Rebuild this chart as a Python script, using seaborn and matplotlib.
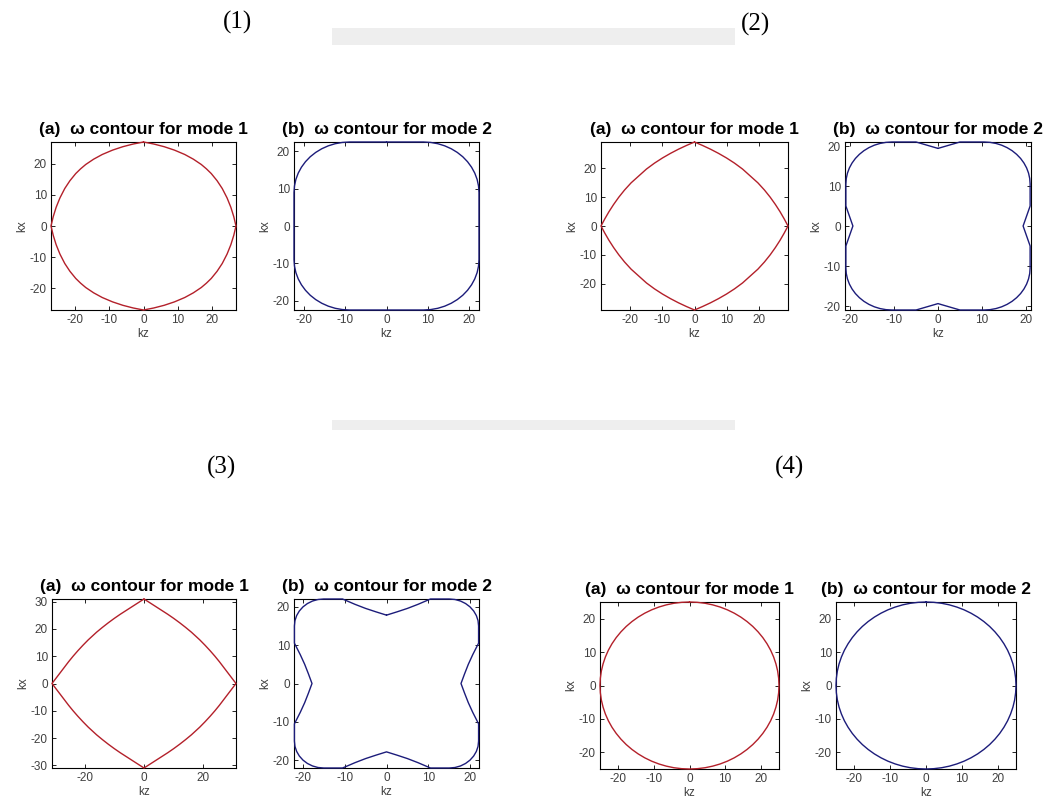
import numpy as np
import matplotlib
matplotlib.use("Agg")
import matplotlib.pyplot as plt
from matplotlib.patches import Rectangle
import seaborn as sns

sns.set_theme(style="ticks")
plt.rcParams["font.family"] = ["Liberation Sans", "DejaVu Sans"]
plt.rcParams["axes.unicode_minus"] = False

# First-quadrant points (kz, kx) of each omega contour, running from the kx axis to the kz axis.
c1a_kz = [0, 3, 6, 9, 12, 14.5, 16.8, 18.3, 19.7, 21.4, 22.9, 24.3, 25.4, 26.25, 26.9]
c1a_kx = [26.9, 26.25, 25.4, 24.3, 22.9, 21.4, 19.7, 18.3, 16.8, 14.5, 12, 9, 6, 3, 0]

c1b_kz = [0, 9, 10.76, 12.49, 14.17, 15.75, 17.22, 18.55, 19.71, 20.69, 21.47, 22.04, 22.38, 22.5, 22.5]
c1b_kx = [22.5, 22.5, 22.38, 22.04, 21.47, 20.69, 19.71, 18.55, 17.22, 15.75, 14.17, 12.49, 10.76, 9, 0]

c2a_kz = [0, 2.5, 5, 7.5, 10, 12.5, 15, 17.4, 19.8, 21.85, 23.65, 25.25, 26.7, 28.0, 29.2]
c2a_kx = [29.2, 28.0, 26.7, 25.25, 23.65, 21.85, 19.8, 17.4, 15, 12.5, 10, 7.5, 5, 2.5, 0]

c2b_kz = [0, 2.5, 5, 10.5, 11.87, 13.22, 14.52, 15.75, 16.89, 17.92, 18.83, 19.59, 20.2, 20.64,
          20.91, 21.0, 21.0, 20.2, 19.4]
c2b_kx = [19.4, 20.2, 21.0, 21.0, 20.91, 20.64, 20.2, 19.59, 18.83, 17.92, 16.89, 15.75, 14.52,
          13.22, 11.87, 10.5, 5, 2.5, 0]

c3a_kz = [0, 2, 4, 6, 8, 10, 12, 14, 16, 17.4, 18.8, 20.6, 22.3, 23.9, 25.4, 26.8, 28.2, 29.6, 31]
c3a_kx = [31, 29.6, 28.2, 26.8, 25.4, 23.9, 22.3, 20.6, 18.8, 17.4, 16, 14, 12, 10, 8, 6, 4, 2, 0]

c3b_kz = [0, 2.5, 5, 7.5, 10.5, 15, 16.37, 17.68, 18.89, 19.95, 20.82, 21.47, 21.87, 22, 22,
          20.6, 19.55, 18.65, 17.8]
c3b_kx = [17.8, 18.65, 19.55, 20.6, 22, 22, 21.87, 21.47, 20.82, 19.95, 18.89, 17.68, 16.37, 15,
          10.5, 7.5, 5, 2.5, 0]

c4a_kz = [0, 2.19, 4.36, 6.5, 8.58, 10.61, 12.55, 14.4, 16.13, 17.75, 19.23, 20.56, 21.74,
          22.75, 23.59, 24.24, 24.72, 25.0, 25.1]
c4a_kx = [25.1, 25.0, 24.72, 24.24, 23.59, 22.75, 21.74, 20.56, 19.23, 17.75, 16.13, 14.4,
          12.55, 10.61, 8.58, 6.5, 4.36, 2.19, 0]

c4b_kz = [0, 2.18, 4.34, 6.47, 8.55, 10.57, 12.5, 14.34, 16.07, 17.68, 19.15, 20.48, 21.65,
          22.66, 23.49, 24.15, 24.62, 24.9, 25.0]
c4b_kx = [25.0, 24.9, 24.62, 24.15, 23.49, 22.66, 21.65, 20.48, 19.15, 17.68, 16.07, 14.34,
          12.5, 10.57, 8.55, 6.47, 4.34, 2.18, 0]

# Axis limits (kz, kx) and tick values of each panel
lims = {
    "1a": ((-26.9, 26.9), (-26.9, 26.9)),
    "1b": ((-22.5, 22.5), (-22.5, 22.5)),
    "2a": ((-29.2, 29.2), (-29.2, 29.2)),
    "2b": ((-21.2, 21.2), (-21.0, 21.0)),
    "3a": ((-31.0, 31.0), (-31.0, 31.0)),
    "3b": ((-22.1, 22.1), (-22.0, 22.0)),
    "4a": ((-25.1, 25.1), (-25.1, 25.1)),
    "4b": ((-25.0, 25.0), (-25.0, 25.0)),
}
ticks_std = [-20, -10, 0, 10, 20]
xticks = {k: ticks_std for k in lims}
yticks = {k: ticks_std for k in lims}
xticks["3a"] = [-20, 0, 20]
yticks["3a"] = [-30, -20, -10, 0, 10, 20, 30]

curves = {
    "1a": (c1a_kz, c1a_kx), "1b": (c1b_kz, c1b_kx),
    "2a": (c2a_kz, c2a_kx), "2b": (c2b_kz, c2b_kx),
    "3a": (c3a_kz, c3a_kx), "3b": (c3b_kz, c3b_kx),
    "4a": (c4a_kz, c4a_kx), "4b": (c4b_kz, c4b_kx),
}
titles = {"a": "(a)  \u03c9 contour for mode 1", "b": "(b)  \u03c9 contour for mode 2"}
colors = {"a": "#b3202a", "b": "#1c1c7a"}

# Axes boxes in pixels: left, top, right, bottom
W, H = 1046, 805
boxes = {
    "1a": (51, 142, 236, 310), "1b": (294, 142, 479, 310),
    "2a": (601, 142, 788, 310), "2b": (845, 142, 1031, 310),
    "3a": (52, 599, 236, 768), "3b": (294, 599, 479, 768),
    "4a": (600, 602, 779, 769), "4b": (836, 602, 1016, 769),
}


def closed_loop(kz_q, kx_q):
    kz_q = np.asarray(kz_q, float)
    kx_q = np.asarray(kx_q, float)
    z = np.concatenate([kz_q, kz_q[::-1][1:], -kz_q[1:], -kz_q[::-1][1:]])
    x = np.concatenate([kx_q, -kx_q[::-1][1:], -kx_q[1:], kx_q[::-1][1:]])
    return z, x


fig = plt.figure(figsize=(W / 100, H / 100), dpi=100)
fig.patch.set_facecolor("white")

# faint grey bands across the page
for (x0, y0, x1, y1) in [(332, 28, 735, 45), (332, 420, 735, 430)]:
    fig.patches.append(Rectangle((x0 / W, 1 - y1 / H), (x1 - x0) / W, (y1 - y0) / H,
                                 transform=fig.transFigure, facecolor="#eeeeee",
                                 edgecolor="none", zorder=0))

grey = "#404040"
for key, (l, t, r, b) in boxes.items():
    ax = fig.add_axes([l / W, 1 - b / H, (r - l) / W, (b - t) / H])
    ax.set_facecolor("white")
    z, x = closed_loop(*curves[key])
    sns.lineplot(x=z, y=x, sort=False, estimator=None, color=colors[key[1]],
                 linewidth=1.0, ax=ax)
    for ln in ax.lines:
        ln.set_clip_on(False)
        ln.set_zorder(5)
    (xl, yl) = lims[key]
    ax.set_xlim(*xl)
    ax.set_ylim(*yl)
    ax.set_xticks(xticks[key])
    ax.set_yticks(yticks[key])
    ax.tick_params(direction="in", length=3, width=0.6, top=True, right=True,
                   labelsize=8.5, labelcolor=grey, pad=3, color="black")
    for sp in ax.spines.values():
        sp.set_visible(True)
        sp.set_linewidth(0.8)
        sp.set_color("black")
    ax.set_xlabel("kz", fontsize=8.5, color=grey, labelpad=1)
    ax.set_ylabel("kx", fontsize=8.5, color=grey, labelpad=1)
    ax.set_title(titles[key[1]], fontsize=12.5, fontweight="bold", color="black", pad=6)

# panel group numbers
for lab, (px, py) in {"(1)": (237, 22), "(2)": (755, 24), "(3)": (221, 467), "(4)": (790, 467)}.items():
    fig.text(px / W, 1 - py / H, lab, fontsize=18, ha="center", va="center",
             family=["Liberation Serif", "DejaVu Serif"], color="black")

fig.savefig("out.png", dpi=100, facecolor="white")
